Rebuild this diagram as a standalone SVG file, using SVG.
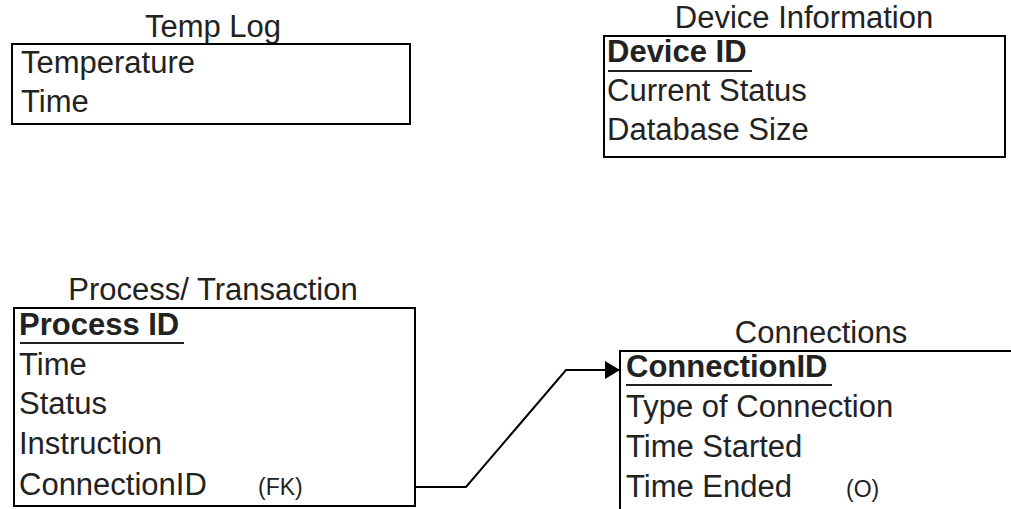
<svg xmlns="http://www.w3.org/2000/svg" width="1011" height="509" viewBox="0 0 1011 509">
<style>
text{font-family:"Liberation Sans",Arial,sans-serif;font-size:31px;fill:#222}
.t{text-anchor:middle}
.b{font-weight:bold}
.s{font-size:23px}
.box{fill:#fff;stroke:#000;stroke-width:2}
.ul{stroke:#222;stroke-width:2}
.conn{fill:none;stroke:#000;stroke-width:2}
</style>
<defs>
<marker id="arr" markerUnits="userSpaceOnUse" markerWidth="18" markerHeight="22" refX="16" refY="11" orient="auto">
<path d="M1,2 L16,11 L1,20 Z" fill="#000"/>
</marker>
</defs>
<rect width="1011" height="509" fill="#fff"/>
<g id="templog">
<text class="t" x="213" y="37">Temp Log</text>
<rect class="box" x="12" y="44" width="398" height="80"/>
<text x="21" y="73">Temperature</text>
<text x="21" y="112">Time</text>
</g>
<g id="device">
<text class="t" x="804" y="28">Device Information</text>
<rect class="box" x="604" y="36" width="401" height="121"/>
<text class="b" x="607" y="62">Device ID</text>
<line class="ul" x1="608" y1="71" x2="752" y2="71"/>
<text x="607" y="101">Current Status</text>
<text x="607" y="140">Database Size</text>
</g>
<g id="process">
<text class="t" x="213" y="300">Process/ Transaction</text>
<rect class="box" x="14" y="308" width="401" height="198"/>
<text class="b" x="19" y="335">Process ID</text>
<line class="ul" x1="20" y1="343" x2="184" y2="343"/>
<text x="19" y="375">Time</text>
<text x="19" y="414">Status</text>
<text x="19" y="454">Instruction</text>
<text x="19" y="495">ConnectionID</text>
<text class="s" x="258" y="495">(FK)</text>
</g>
<g id="connections">
<text class="t" x="821" y="343">Connections</text>
<rect class="box" x="620" y="351" width="420" height="180"/>
<text class="b" x="626" y="377">ConnectionID</text>
<line class="ul" x1="626" y1="385" x2="832" y2="385"/>
<text x="626" y="417">Type of Connection</text>
<text x="626" y="457">Time Started</text>
<text x="626" y="497">Time Ended</text>
<text class="s" x="846" y="497">(O)</text>
</g>
<g id="connectors">
<path class="conn" d="M415,487 L466,487 L566,370 L620,370" marker-end="url(#arr)"/>
</g>
</svg>
